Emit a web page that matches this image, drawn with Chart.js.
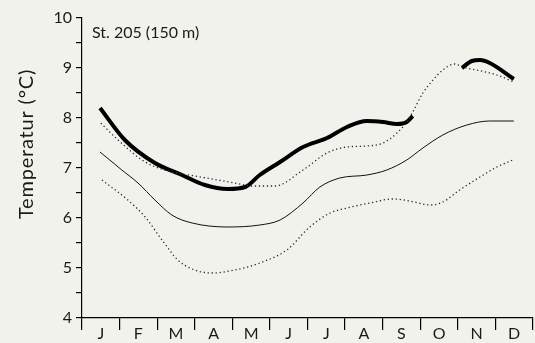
<!DOCTYPE html>
<html>
<head>
<meta charset="utf-8">
<script src="https://cdn.jsdelivr.net/npm/chart.js@4/dist/chart.umd.min.js"></script>
<style>
  html, body { margin: 0; padding: 0; background: #f2f2ed; }
  #wrap { width: 535px; height: 343px; position: relative; }
</style>
</head>
<body>
<div id="wrap"><canvas id="tempChart"></canvas></div>
<script>
// month labels, one per month; x positions below are in months (0 = start of January)
const monate = ['J', 'F', 'M', 'A', 'M', 'J', 'J', 'A', 'S', 'O', 'N', 'D'];

// thick line (St. 205, actual year), two pieces with a gap in October
const dickX1 = [0.48, 1.14, 1.94, 2.66, 3.27, 3.88, 4.34, 4.73, 5.27, 5.88, 6.52, 7.05, 7.58, 8.01, 8.38, 8.64, 8.80];
const dickY1 = [8.2, 7.56, 7.1, 6.86, 6.66, 6.58, 6.62, 6.86, 7.12, 7.42, 7.6, 7.82, 7.94, 7.92, 7.88, 7.92, 8.04];
const dickX2 = [10.11, 10.37, 10.59, 10.85, 11.49];
const dickY2 = [9.0, 9.14, 9.16, 9.1, 8.78];

// thin solid line (mean)
const mittelX = [0.48, 1.06, 1.49, 1.94, 2.39, 2.93, 3.88, 4.73, 5.27, 5.88, 6.33, 6.86, 7.58, 8.11, 8.64, 9.07, 9.6, 10.24, 10.85, 11.49];
const mittelY = [7.32, 6.96, 6.7, 6.36, 6.06, 5.9, 5.82, 5.86, 5.96, 6.3, 6.62, 6.8, 6.86, 6.96, 7.16, 7.4, 7.66, 7.86, 7.94, 7.94];

// upper dotted line
const obenX = [0.5, 0.96, 1.68, 2.39, 3.0, 4.07, 4.52, 5.13, 5.88, 6.52, 7.05, 7.58, 8.01, 8.38, 8.64, 8.8, 9.07, 9.34, 9.6, 9.92, 10.13, 10.5, 11.04, 11.49];
const obenY = [7.9, 7.56, 7.12, 6.92, 6.84, 6.7, 6.64, 6.64, 6.96, 7.3, 7.42, 7.44, 7.5, 7.7, 7.92, 8.12, 8.5, 8.76, 8.96, 9.08, 9.02, 8.96, 8.86, 8.72];

// lower dotted line
const untenX = [0.53, 1.22, 1.68, 2.13, 2.55, 2.93, 3.46, 4.07, 4.73, 5.45, 6.06, 6.6, 7.05, 7.66, 8.27, 8.72, 9.26, 9.6, 10.05, 10.59, 11.04, 11.46];
const untenY = [6.76, 6.36, 6.02, 5.56, 5.16, 4.98, 4.9, 4.96, 5.1, 5.36, 5.82, 6.1, 6.2, 6.3, 6.38, 6.34, 6.26, 6.32, 6.56, 6.82, 7.02, 7.16];

const yTicks = [4, 5, 6, 7, 8, 9, 10];

function punkte(xs, ys) {
    return xs.map((x, i) => ({ x: x, y: ys[i] }));
}

const schrift = 'Lato, "Open Sans", sans-serif';
const textFarbe = '#1a1a1a';

const hintergrund = {
    id: 'hintergrund',
    beforeDraw(chart) {
        const ctx = chart.ctx;
        ctx.save();
        ctx.fillStyle = '#f2f2ed';
        ctx.fillRect(0, 0, chart.width, chart.height);
        ctx.restore();
    }
};

// station label inside the plot and the rotated axis title
const texte = {
    id: 'texte',
    afterDraw(chart) {
        const ctx = chart.ctx;
        ctx.save();
        ctx.fillStyle = textFarbe;
        ctx.font = '16px ' + schrift;
        ctx.textBaseline = 'alphabetic';
        ctx.fillText('St. 205 (150 m)', chart.chartArea.left + 10, 38);

        ctx.font = '20px ' + schrift;
        ctx.letterSpacing = '0.8px';
        ctx.textAlign = 'center';
        ctx.translate(33, 144);
        ctx.rotate(-Math.PI / 2);
        ctx.fillText('Temperatur (°C)', 0, 0);
        ctx.restore();
    }
};

const gepunktet = {
    borderColor: '#2a2a2a',
    borderWidth: 1.3,
    borderDash: [1.3, 2.7],
    pointRadius: 0,
    fill: false,
    cubicInterpolationMode: 'monotone'
};

const ctx = document.getElementById('tempChart').getContext('2d');
const chart = new Chart(ctx, {
    type: 'line',
    data: {
        datasets: [
            Object.assign({ data: punkte(untenX, untenY) }, gepunktet),
            Object.assign({ data: punkte(obenX, obenY) }, gepunktet),
            {
                data: punkte(mittelX, mittelY),
                borderColor: '#111',
                borderWidth: 1,
                pointRadius: 0,
                cubicInterpolationMode: 'monotone'
            },
            {
                data: punkte(dickX1, dickY1),
                borderColor: '#000',
                borderWidth: 4,
                pointRadius: 0,
                borderCapStyle: 'butt',
                cubicInterpolationMode: 'monotone'
            },
            {
                data: punkte(dickX2, dickY2),
                borderColor: '#000',
                borderWidth: 4,
                pointRadius: 0,
                borderCapStyle: 'butt',
                cubicInterpolationMode: 'monotone'
            }
        ]
    },
    options: {
        responsive: true,
        maintainAspectRatio: false,
        animation: false,
        layout: { padding: { top: 18, right: 2, left: 0, bottom: 0 } },
        plugins: {
            legend: { display: false },
            tooltip: { enabled: false }
        },
        scales: {
            x: {
                type: 'linear',
                min: 0,
                max: 12,
                display: false
            },
            monat: {
                type: 'category',
                position: 'bottom',
                labels: monate,
                offset: true,
                border: { display: true, color: '#000', width: 1.2 },
                grid: {
                    offset: true,
                    drawOnChartArea: false,
                    drawTicks: true,
                    tickLength: 12,
                    color: '#000',
                    lineWidth: 1.2
                },
                ticks: {
                    color: textFarbe,
                    font: { family: schrift, size: 16 },
                    padding: -6,
                    autoSkip: false,
                    maxRotation: 0
                },
                afterFit(scale) { scale.height = 25; }
            },
            y: {
                type: 'linear',
                min: 4,
                max: 10,
                border: { display: true, color: '#000', width: 1.2 },
                grid: {
                    drawOnChartArea: false,
                    tickLength: 6,
                    color: '#000',
                    lineWidth: 1.2
                },
                ticks: {
                    stepSize: 0.5,
                    color: textFarbe,
                    font: { family: schrift, size: 16 },
                    padding: 4,
                    callback: v => yTicks.includes(v) ? String(v) : ''
                },
                afterFit(scale) { scale.width = 82; }
            }
        }
    },
    plugins: [hintergrund, texte]
});
</script>
</body>
</html>
